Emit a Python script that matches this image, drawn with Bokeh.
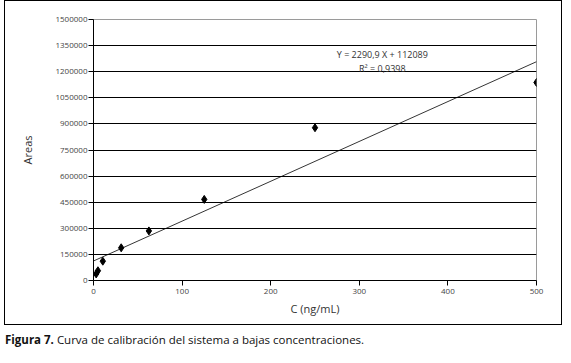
from bokeh.plotting import figure
from bokeh.models import (FixedTicker, Label, Div, ColumnDataSource, NumeralTickFormatter)
from bokeh.layouts import column
from bokeh.embed import file_html
from bokeh.resources import INLINE

# data
conc = [3, 5, 10.5, 31.25, 62.5, 125, 250, 500]
areas = [38000, 56000, 111000, 188000, 285000, 466000, 878000, 1138000]
slope = 2290.9
intercept = 112089
eq_text = "Y = 2290,9 X + 112089"
r2_text = "R\u00b2 = 0,9398"
y_ticks = [0, 150000, 300000, 450000, 600000, 750000, 900000, 1050000, 1200000, 1350000, 1500000]
x_ticks = [0, 100, 200, 300, 400, 500]
caption_bold = "Figura 7."
caption_rest = "Curva de calibración del sistema a bajas concentraciones."

FONT = "Open Sans"

p = figure(width=558, height=325, output_backend="svg", toolbar_location=None,
           x_range=(0, 500), y_range=(0, 1500000),
           min_border_left=88, min_border_right=27, min_border_top=18, min_border_bottom=46)
p.styles = {"border": "1px solid black", "margin-left": "4px"}
p.outline_line_color = "#9a9a9a"
p.background_fill_color = "white"
p.border_fill_color = "white"

# axes
for ax in (p.xaxis[0], p.yaxis[0]):
    ax.axis_line_color = "black"
    ax.major_tick_line_color = "black"
    ax.minor_tick_line_color = None
    ax.major_tick_in = 0
    ax.major_tick_out = 5
    ax.major_label_text_font = FONT
    ax.major_label_text_font_size = "8px"
    ax.major_label_text_color = "#444444"
    ax.axis_label_text_font = FONT
    ax.axis_label_text_font_style = "normal"
    ax.axis_label_text_font_size = "11px"
    ax.axis_label_text_color = "#333333"

p.xaxis.ticker = FixedTicker(ticks=x_ticks)
p.yaxis.ticker = FixedTicker(ticks=y_ticks)
p.yaxis.formatter = NumeralTickFormatter(format="0")
p.xaxis.major_label_standoff = 3
p.yaxis.major_label_standoff = 1
p.xaxis.axis_label = "C (ng/mL)"
p.yaxis.axis_label = "Areas"
p.xaxis.axis_label_standoff = 4
p.yaxis.axis_label_standoff = 17

# grid
p.xgrid.grid_line_color = None
p.ygrid.ticker = FixedTicker(ticks=y_ticks[1:-1])
p.ygrid.grid_line_color = "black"
p.ygrid.grid_line_width = 1

# regression line
xs = [0, 500]
ys = [intercept + slope * x for x in xs]
p.line(xs, ys, line_color="black", line_width=0.8)

# points
src = ColumnDataSource(dict(x=conc, y=areas))
p.scatter("x", "y", source=src, marker="diamond", size=8, fill_color="black", line_color="black")

# equation
p.add_layout(Label(x=326, y=1298000, text=eq_text, text_align="center", text_baseline="middle",
                   text_font=FONT, text_font_size="9px", text_color="#333333"))
p.add_layout(Label(x=326, y=1218000, text=r2_text, text_align="center", text_baseline="middle",
                   text_font=FONT, text_font_size="9px", text_color="#333333"))

cap = Div(text=f'<span style="font-family:\'Open Sans\';font-size:11.5px;color:#111;">'
               f'<b>{caption_bold}</b> {caption_rest}</span>',
          width=556, height=24, styles={"margin-top": "7px"})

layout = column(p, cap, spacing=0)
open("out.html", "w").write(file_html(layout, INLINE))
